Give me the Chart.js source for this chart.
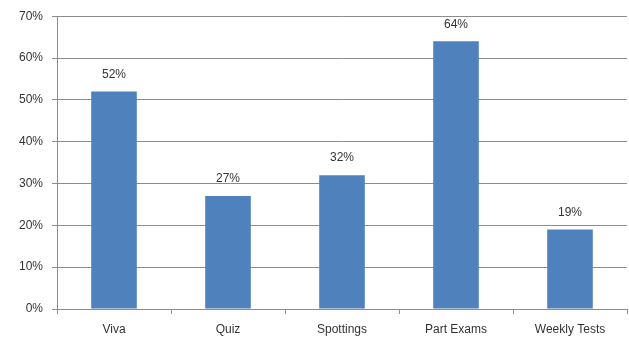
<!DOCTYPE html>
<html>
<head>
<meta charset="utf-8">
<script src="https://cdn.jsdelivr.net/npm/chart.js@4"></script>
<style>
  html, body { margin: 0; padding: 0; background: #fff; }
  #wrap { width: 629px; height: 337px; }
</style>
</head>
<body>
<div id="wrap"><canvas id="chart"></canvas></div>
<script>
// chart data
const categories = ['Viva', 'Quiz', 'Spottings', 'Part Exams', 'Weekly Tests'];
const percentages = [52, 27, 32, 64, 19];
const yTicks = [0, 10, 20, 30, 40, 50, 60, 70];

const barColor = '#4F81BD';
const gridColor = '#8c8c8c';
const textColor = '#333333';

// draw the value labels above each bar
const valueLabels = {
    id: 'valueLabels',
    afterDatasetsDraw(chart) {
        const ctx = chart.ctx;
        const meta = chart.getDatasetMeta(0);
        ctx.save();
        ctx.font = '12px "Liberation Sans", Arial, sans-serif';
        ctx.fillStyle = textColor;
        ctx.textAlign = 'center';
        ctx.textBaseline = 'middle';
        meta.data.forEach(function(bar, i) {
            ctx.fillText(percentages[i] + '%', bar.x, bar.y - 17);
        });
        ctx.restore();
    }
};

Chart.defaults.font.family = '"Liberation Sans", Arial, sans-serif';
Chart.defaults.font.size = 12;
Chart.defaults.color = textColor;

new Chart(document.getElementById('chart'), {
    type: 'bar',
    data: {
        labels: categories,
        datasets: [{
            data: percentages,
            backgroundColor: barColor,
            borderWidth: 0,
            categoryPercentage: 1,
            barPercentage: 0.4
        }]
    },
    options: {
        responsive: true,
        maintainAspectRatio: false,
        animation: false,
        layout: { padding: { top: 15, right: 2, left: 0, bottom: 0 } },
        plugins: {
            legend: { display: false },
            tooltip: { enabled: false }
        },
        scales: {
            x: {
                grid: {
                    display: true,
                    drawOnChartArea: false,
                    drawTicks: true,
                    tickLength: 5,
                    color: gridColor
                },
                border: { display: true, color: gridColor },
                ticks: { padding: 8, color: textColor },
                afterFit(scale) { scale.height = 28; }
            },
            y: {
                min: 0,
                max: 70,
                afterBuildTicks(scale) {
                    scale.ticks = yTicks.map(v => ({ value: v }));
                },
                grid: {
                    color: gridColor,
                    tickLength: 5
                },
                border: { display: true, color: gridColor },
                ticks: {
                    padding: 9,
                    color: textColor,
                    callback: v => v + '%'
                },
                afterFit(scale) { scale.width = 57; }
            }
        }
    },
    plugins: [valueLabels]
});
</script>
</body>
</html>
